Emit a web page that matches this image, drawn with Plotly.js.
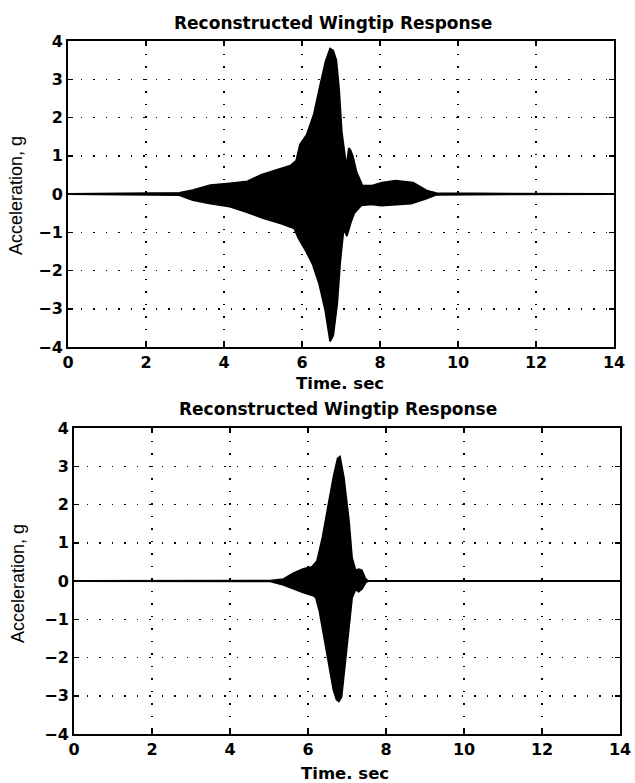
<!DOCTYPE html>
<html><head><meta charset="utf-8">
<script src="https://cdn.plot.ly/plotly-3.0.1.min.js"></script>
<style>html,body{margin:0;padding:0;background:#fff}#chart{width:635px;height:783px}</style>
</head><body><div id="chart"></div>
<script>
const titleText = 'Reconstructed Wingtip Response';
const xLabel = 'Time. sec';
const yLabel = 'Acceleration, g';
const xTicks = [0, 2, 4, 6, 8, 10, 12, 14];
const yTicks = [-4, -3, -2, -1, 0, 1, 2, 3, 4];

// Top panel: envelope of the oscillating response (upper / lower)
const topUpperT = [0, 2.85, 3.2, 3.65, 4.15, 4.6, 4.95, 5.3, 5.7, 5.85, 5.95, 6.12, 6.3, 6.45, 6.6, 6.72, 6.8, 6.88, 6.95, 7.02, 7.09, 7.14, 7.2, 7.24, 7.3, 7.4, 7.55, 7.8, 8.05, 8.4, 8.85, 9.2, 9.45, 14];
const topUpperV = [0, 0.03, 0.1, 0.23, 0.28, 0.33, 0.5, 0.62, 0.74, 0.87, 1.3, 1.55, 2.07, 2.77, 3.45, 3.8, 3.75, 3.5, 2.75, 1.62, 1.0, 0.7, 1.2, 1.15, 1.0, 0.57, 0.22, 0.22, 0.3, 0.35, 0.3, 0.09, 0.02, 0];
const topLowerT = [0, 2.85, 3.2, 3.65, 4.15, 4.6, 5.0, 5.45, 5.8, 5.9, 6.1, 6.27, 6.44, 6.6, 6.72, 6.8, 6.9, 6.98, 7.07, 7.15, 7.25, 7.34, 7.52, 7.78, 8.03, 8.38, 8.8, 9.17, 9.45, 14];
const topLowerV = [0, -0.03, -0.16, -0.25, -0.33, -0.48, -0.63, -0.77, -0.9, -1.14, -1.49, -1.83, -2.35, -3.06, -3.85, -3.7, -2.9, -1.78, -0.9, -1.1, -0.75, -0.5, -0.3, -0.27, -0.3, -0.28, -0.25, -0.13, -0.02, 0];

// Bottom panel
const botUpperT = [0, 5.03, 5.37, 5.62, 5.88, 6.1, 6.23, 6.37, 6.52, 6.66, 6.76, 6.82, 6.92, 7.05, 7.13, 7.22, 7.3, 7.38, 7.47, 7.55, 14];
const botUpperV = [0, 0.01, 0.05, 0.2, 0.32, 0.37, 0.52, 1.13, 1.98, 2.76, 3.2, 3.25, 2.7, 1.57, 0.6, 0.28, 0.31, 0.28, 0.06, 0, 0];
const botLowerT = [0, 5.03, 5.37, 5.62, 5.87, 6.13, 6.2, 6.29, 6.41, 6.53, 6.65, 6.73, 6.79, 6.86, 6.95, 7.06, 7.13, 7.22, 7.3, 7.39, 7.48, 7.55, 14];
const botLowerV = [0, -0.01, -0.1, -0.2, -0.3, -0.38, -0.43, -0.77, -1.46, -2.15, -2.84, -3.1, -3.15, -3.03, -2.17, -1.14, -0.44, -0.22, -0.28, -0.2, -0.04, 0, 0];

function envTrace(uT, uV, lT, lV, xa, ya) {
  return {
    x: uT.concat(lT.slice().reverse()),
    y: uV.concat(lV.slice().reverse()),
    xaxis: xa, yaxis: ya,
    type: 'scatter', mode: 'lines', fill: 'toself',
    fillcolor: '#000', line: {color: '#000', width: 1.8},
    hoverinfo: 'skip', showlegend: false
  };
}

const W = 635, H = 783;
const tickFont = {family: 'DejaVu Sans', size: 16, color: '#000', weight: 'bold'};
function xAxis(l, r, anchor) {
  return {
    domain: [l / W, r / W], range: [0, 14], anchor: anchor,
    tickvals: xTicks, ticktext: xTicks.map(String),
    showline: true, mirror: 'ticks', linecolor: '#000', linewidth: 2,
    ticks: 'inside', ticklen: 5, tickwidth: 1.5, tickcolor: '#000',
    showgrid: true, gridcolor: '#000', gridwidth: 1.5, griddash: '1.5px,11px',
    zeroline: false, tickfont: tickFont, fixedrange: true
  };
}
function yAxis(t, b, anchor) {
  return {
    domain: [1 - b / H, 1 - t / H], range: [-4, 4], anchor: anchor,
    tickvals: yTicks, ticktext: yTicks.map(v => v < 0 ? '\u2212' + Math.abs(v) : String(v)),
    showline: true, mirror: 'ticks', linecolor: '#000', linewidth: 2,
    ticks: 'inside', ticklen: 5, tickwidth: 1.5, tickcolor: '#000',
    showgrid: true, gridcolor: '#000', gridwidth: 1.5, griddash: '1.5px,11px',
    zeroline: false, tickfont: tickFont, fixedrange: true
  };
}

const titleFont = {family: 'DejaVu Sans', size: 17, color: '#000', weight: 'bold'};
const labFont = {family: 'DejaVu Sans', size: 16.5, color: '#000', weight: 'bold'};
const yLabFont = {family: 'Liberation Sans Narrow, Liberation Sans', size: 18, color: '#000'};

function ann(text, xpx, ypx, font, rot) {
  return {text: text, xref: 'paper', yref: 'paper', x: xpx / W, y: 1 - ypx / H,
          xanchor: 'center', yanchor: 'middle', showarrow: false, font: font, textangle: rot || 0};
}

const layout = {
  width: W, height: H,
  margin: {l: 0, r: 0, t: 0, b: 0},
  paper_bgcolor: '#fff', plot_bgcolor: '#fff',
  showlegend: false,
  xaxis: xAxis(68, 614, 'y'),
  yaxis: yAxis(41, 347, 'x'),
  xaxis2: xAxis(74, 620, 'y2'),
  yaxis2: yAxis(428, 734, 'x2'),
  annotations: [
    ann(titleText, 333, 23, titleFont),
    ann(xLabel, 340, 383, labFont),
    ann(yLabel, 16, 196, yLabFont, -90),
    ann(titleText, 338, 409, titleFont),
    ann(xLabel, 345, 773, labFont),
    ann(yLabel, 18, 584, yLabFont, -90)
  ]
};

const data = [
  envTrace(topUpperT, topUpperV, topLowerT, topLowerV, 'x', 'y'),
  envTrace(botUpperT, botUpperV, botLowerT, botLowerV, 'x2', 'y2')
];

Plotly.newPlot('chart', data, layout, {staticPlot: true, displayModeBar: false});
</script>
</body></html>
